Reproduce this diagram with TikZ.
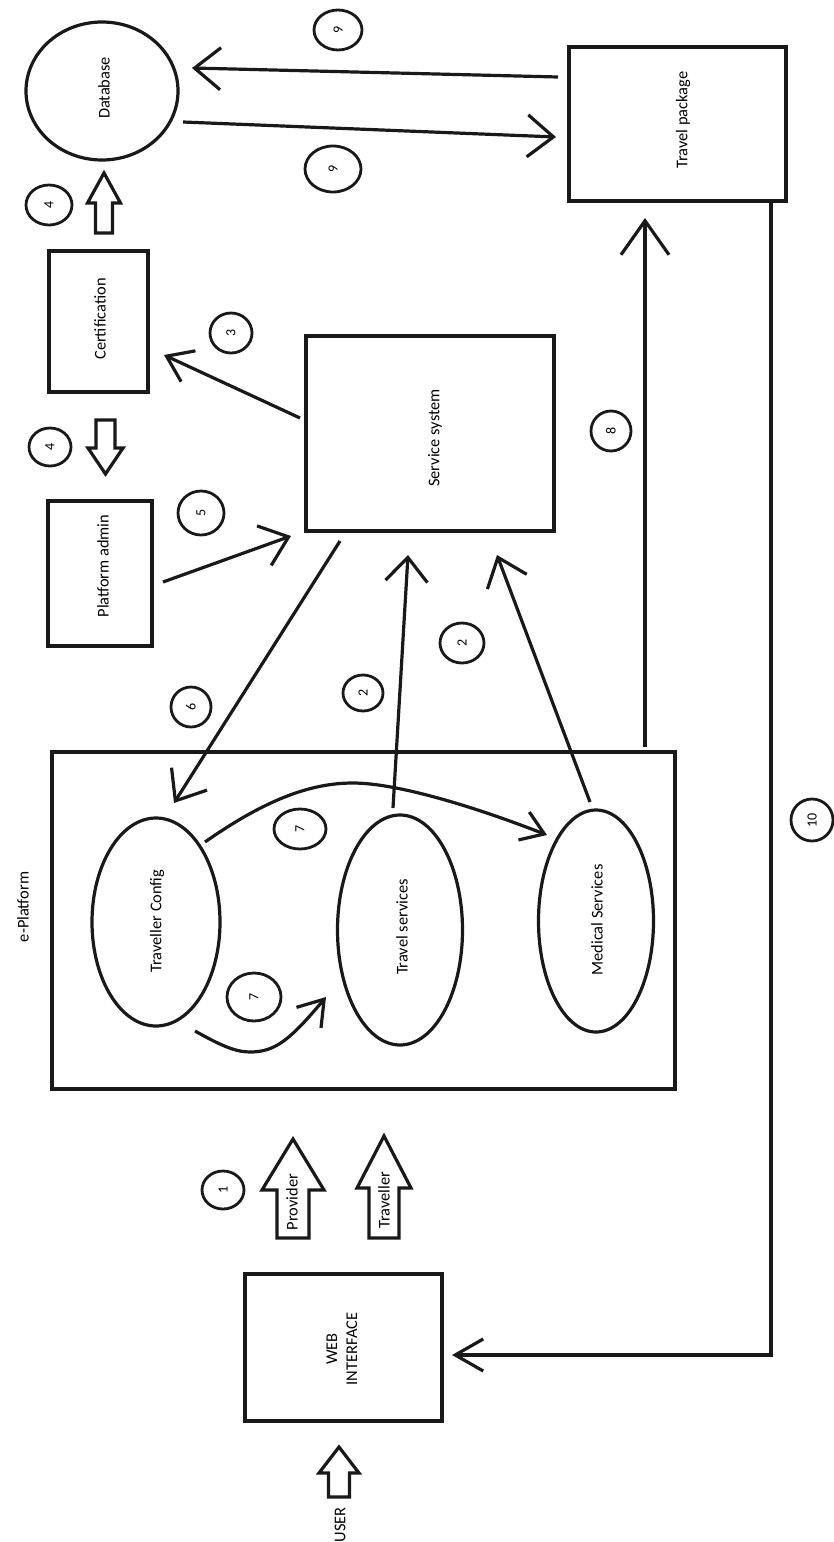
\documentclass[tikz,border=0pt]{standalone}
\usepackage{fontspec}
\setmainfont{Carlito}
\usetikzlibrary{arrows.meta,shapes.geometric}
\newcommand{\hollowup}[6]{% xc, tip y, head base y, bottom y, head half width, shaft half width
  \draw[hollow] (#1,#2) -- (#1+#5,#3) -- (#1+#6,#3) -- (#1+#6,#4) -- (#1-#6,#4) -- (#1-#6,#3) -- (#1-#5,#3) -- cycle;}
\tikzset{
  x=0.5pt,y=-0.5pt,
  every node/.style={font=\fontsize{8.2}{9}\selectfont,text=black,inner sep=0pt,outer sep=0pt},
  boxnode/.style={draw=black!90,line width=1.9pt,rectangle,rotate=0},
  oval/.style={draw=black!90,line width=1.6pt,ellipse},
  badge/.style={draw=black!90,line width=1.4pt,ellipse,font=\fontsize{7}{8}\selectfont,rotate=90},
  lab/.style={rotate=90,align=center},
  conn/.style={draw=black!90,line width=1.6pt,-{Straight Barb[length=13pt,width=21pt,line width=1.6pt]}},
  hollow/.style={draw=black!90,line width=1.6pt,fill=white,line join=miter},
}
\begin{document}
\begin{tikzpicture}
\useasboundingbox (0,0) rectangle (834,1542);
% main boxes
\node[boxnode,minimum width=197pt/2,minimum height=147pt/2] (web) at (343.5,1347.5) {};
\node[boxnode,minimum width=623pt/2,minimum height=337pt/2] (plat) at (363.5,920.5) {};
\node[boxnode,minimum width=99pt/2,minimum height=141pt/2] (cert) at (98.5,321.5) {};
\node[boxnode,minimum width=104pt/2,minimum height=145pt/2] (admin) at (100,573.5) {};
\node[boxnode,minimum width=248pt/2,minimum height=195pt/2] (service) at (430,433.5) {};
\node[boxnode,minimum width=217pt/2,minimum height=154pt/2] (pkg) at (677.5,124) {};
\node[oval,minimum width=152pt/2,minimum height=138pt/2] (db) at (102,91) {};
\node[oval,minimum width=64pt,minimum height=104pt] (tc) at (156,922) {};
\node[oval,minimum width=62.5pt,minimum height=115pt] (ts) at (400,930) {};
\node[oval,minimum width=57.5pt,minimum height=111pt] (ms) at (596,921) {};
% labels
\node[lab] (lweb) at (342,1349) {WEB\\[1pt]INTERFACE};
\node[lab] (lplat) at (23,907) {e-Platform};
\node[lab] (lcert) at (100,319) {Certification};
\node[lab] (ladmin) at (103,566) {Platform admin};
\node[lab] (lservice) at (435,438) {Service system};
\node[lab] (lpkg) at (683,120) {Travel package};
\node[lab] (ldb) at (104,88) {Database};
\node[lab] (ltc) at (157,921) {Traveller Config};
\node[lab] (lts) at (402,927) {Travel services};
\node[lab] (lms) at (597,920) {Medical Services};
% hollow arrows
\hollowup{293}{1139}{1190}{1238}{31}{16}
\hollowup{384}{1136}{1188}{1238}{27}{15}
\hollowup{339}{1447}{1473}{1497}{20}{10.5}
\hollowup{104}{173}{203}{233}{16.5}{8.5}
\draw[hollow] (105.5,474) -- (123,448) -- (115,448) -- (115,420) -- (96,420) -- (96,448) -- (88,448) -- cycle;
\node[lab] (lprov) at (292,1202) {Provider};
\node[lab] (ltrav) at (384,1200) {Traveller};
\node[lab] (luser) at (340,1525) {USER};
% connectors
\draw[conn] ([shift={(-119.5,-47)}]pkg.center) -- ([shift={(90,-23)}]db.center);
\draw[conn] ([shift={(81,31)}]db.center) -- ([shift={(-121.5,13)}]pkg.center);
\draw[conn,-{Straight Barb[length=12pt,width=17pt,line width=1.6pt]}] ([shift={(-130,-15.5)}]service.center) -- ([shift={(65.5,33.5)}]cert.center);
\draw[conn] ([shift={(63,8.5)}]admin.center) -- ([shift={(-139,102.5)}]service.center);
\draw[conn] ([shift={(-90,107.5)}]service.center) -- ([shift={(18,-119)}]tc.center);
\draw[conn,-{Straight Barb[length=12pt,width=21pt,line width=1.6pt]}] ([shift={(-7,-122)}]ts.center) -- ([shift={(-22,121.5)}]service.center);
\draw[conn] ([shift={(-6,-119)}]ms.center) -- ([shift={(67,121.5)}]service.center);
\draw[conn,-{Straight Barb[length=17pt,width=24pt,line width=1.6pt]}] ([shift={(281.5,-173.5)}]plat.center) -- ([shift={(-32.5,94)}]pkg.center);
\draw[conn,-{Straight Barb[length=14pt,width=16pt,line width=1.6pt]}] ([shift={(93.5,79)}]pkg.center) |- ([shift={(108.5,7.5)}]web.center);
\draw[conn,-{Straight Barb[length=11pt,width=15pt,line width=1.6pt]}] ([shift={(49,-80)}]tc.center) .. controls (265,800) and (310,783) .. (353,783) .. controls (395,783) and (470,805) .. ([shift={(-49,-86)}]ms.center);
\draw[conn,-{Straight Barb[length=12pt,width=16pt,line width=1.6pt]}] ([shift={(39,109)}]tc.center) .. controls (220,1045) and (235,1052) .. (250,1052) .. controls (275,1052) and (290,1040) .. ([shift={(-74,67)}]ts.center);
% number badges
\node[badge,minimum width=19pt,minimum height=21pt] (b1) at (223,1190) {1};
\node[badge,minimum width=20pt,minimum height=24pt] (b9a) at (338,30) {9};
\node[badge,minimum width=23pt,minimum height=28pt] (b9b) at (333,169) {9};
\node[badge,minimum width=20pt,minimum height=23pt] (b4a) at (49,205) {4};
\node[badge,minimum width=19pt,minimum height=21pt] (b4b) at (50,447) {4};
\node[badge,minimum width=20pt,minimum height=21pt] (b3) at (231,333) {3};
\node[badge,minimum width=22pt,minimum height=23pt] (b5) at (201,513) {5};
\node[badge,minimum width=18pt,minimum height=20pt] (b2a) at (363,693) {2};
\node[badge,minimum width=20pt,minimum height=22pt] (b2b) at (462,643) {2};
\node[badge,minimum width=20pt,minimum height=20pt] (b6) at (191,707) {6};
\node[badge,minimum width=20pt,minimum height=20pt] (b8) at (611,431) {8};
\node[badge,minimum width=21pt,minimum height=21pt] (b10) at (812,820) {10};
\node[badge,minimum width=20pt,minimum height=26pt] (b7a) at (300,829) {7};
\node[badge,minimum width=24pt,minimum height=27pt] (b7b) at (254,997) {7};
\end{tikzpicture}
\end{document}
